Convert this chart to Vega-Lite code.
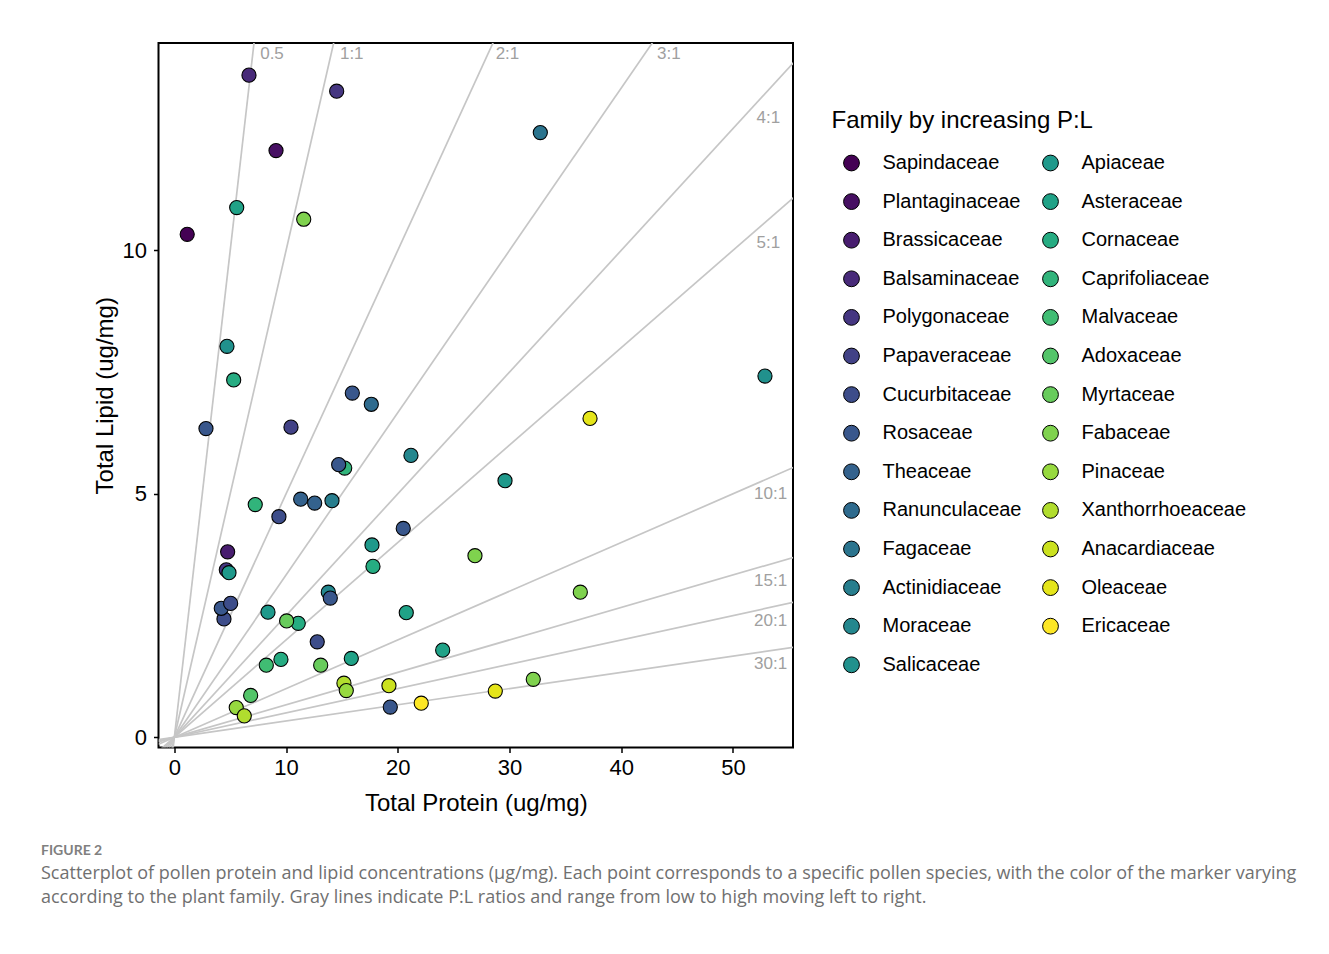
{
  "$schema": "https://vega.github.io/schema/vega-lite/v6.json",
  "width": 634.5,
  "height": 704.5,
  "autosize": "none",
  "padding": {"left": 158.5, "top": 43, "right": 536, "bottom": 206.5},
  "background": "white",
  "config": {
    "font": "Liberation Sans",
    "view": {"stroke": "black", "strokeWidth": 2},
    "axis": {
      "grid": false, "domain": false, "tickColor": "black", "tickSize": 5, "tickWidth": 1.5,
      "labelFontSize": 22, "labelColor": "black", "titleFontSize": 24, "titleFontWeight": "normal",
      "titleColor": "black", "labelFont": "Liberation Sans", "titleFont": "Liberation Sans"
    }
  },
  "title": {
    "text": "FIGURE 2",
    "subtitle": [
      "Scatterplot of pollen protein and lipid concentrations (μg/mg). Each point corresponds to a specific pollen species, with the color of the marker varying",
      "according to the plant family. Gray lines indicate P:L ratios and range from low to high moving left to right."
    ],
    "orient": "bottom", "anchor": "start", "frame": "group", "dx": -117.5, "offset": 28,
    "font": "Lato", "fontSize": 14, "fontWeight": "bold", "color": "#808080",
    "subtitleFont": "Open Sans", "subtitleFontSize": 18, "subtitleColor": "#707070",
    "subtitleLineHeight": 24, "subtitlePadding": 7
  },
  "datasets": {
    "ratios": [
      {"ratio": "0.5", "protein": -1.42, "lipid": -2.84, "protein_end": 60, "lipid_end": 120},
      {"ratio": "1:1", "protein": -1.42, "lipid": -1.42, "protein_end": 60, "lipid_end": 60},
      {"ratio": "2:1", "protein": -1.42, "lipid": -0.71, "protein_end": 60, "lipid_end": 30},
      {"ratio": "3:1", "protein": -1.42, "lipid": -0.473, "protein_end": 60, "lipid_end": 20},
      {"ratio": "4:1", "protein": -1.42, "lipid": -0.355, "protein_end": 60, "lipid_end": 15},
      {"ratio": "5:1", "protein": -1.42, "lipid": -0.284, "protein_end": 60, "lipid_end": 12},
      {"ratio": "10:1", "protein": -1.42, "lipid": -0.142, "protein_end": 60, "lipid_end": 6},
      {"ratio": "15:1", "protein": -1.42, "lipid": -0.0947, "protein_end": 60, "lipid_end": 4},
      {"ratio": "20:1", "protein": -1.42, "lipid": -0.071, "protein_end": 60, "lipid_end": 3},
      {"ratio": "30:1", "protein": -1.42, "lipid": -0.0473, "protein_end": 60, "lipid_end": 2}
    ],
    "labels": [
      {"label": "0.5", "protein": 8.74, "lipid": 14.03},
      {"label": "1:1", "protein": 15.88, "lipid": 14.03},
      {"label": "2:1", "protein": 29.82, "lipid": 14.03},
      {"label": "3:1", "protein": 44.26, "lipid": 14.03},
      {"label": "4:1", "protein": 53.17, "lipid": 12.72},
      {"label": "5:1", "protein": 53.17, "lipid": 10.16},
      {"label": "10:1", "protein": 53.37, "lipid": 5.0},
      {"label": "15:1", "protein": 53.37, "lipid": 3.22},
      {"label": "20:1", "protein": 53.37, "lipid": 2.39},
      {"label": "30:1", "protein": 53.37, "lipid": 1.5}
    ],
    "pollen": [
      {"family": "Sapindaceae", "protein": 1.15, "lipid": 10.33},
      {"family": "Plantaginaceae", "protein": 9.10, "lipid": 12.05},
      {"family": "Balsaminaceae", "protein": 6.68, "lipid": 13.60},
      {"family": "Polygonaceae", "protein": 14.53, "lipid": 13.27},
      {"family": "Asteraceae", "protein": 5.58, "lipid": 10.88},
      {"family": "Fabaceae", "protein": 11.58, "lipid": 10.64},
      {"family": "Fagaceae", "protein": 32.76, "lipid": 12.42},
      {"family": "Salicaceae", "protein": 4.71, "lipid": 8.03},
      {"family": "Cornaceae", "protein": 5.31, "lipid": 7.34},
      {"family": "Rosaceae", "protein": 2.83, "lipid": 6.34},
      {"family": "Papaveraceae", "protein": 10.44, "lipid": 6.37},
      {"family": "Rosaceae", "protein": 15.93, "lipid": 7.07},
      {"family": "Ranunculaceae", "protein": 17.63, "lipid": 6.84},
      {"family": "Caprifoliaceae", "protein": 15.25, "lipid": 5.53},
      {"family": "Rosaceae", "protein": 14.71, "lipid": 5.60},
      {"family": "Moraceae", "protein": 21.18, "lipid": 5.79},
      {"family": "Apiaceae", "protein": 29.60, "lipid": 5.27},
      {"family": "Caprifoliaceae", "protein": 7.24, "lipid": 4.78},
      {"family": "Cucurbitaceae", "protein": 9.36, "lipid": 4.53},
      {"family": "Theaceae", "protein": 11.31, "lipid": 4.89},
      {"family": "Theaceae", "protein": 12.56, "lipid": 4.81},
      {"family": "Actinidiaceae", "protein": 14.11, "lipid": 4.86},
      {"family": "Rosaceae", "protein": 20.49, "lipid": 4.29},
      {"family": "Salicaceae", "protein": 52.87, "lipid": 7.42},
      {"family": "Oleaceae", "protein": 37.21, "lipid": 6.55},
      {"family": "Brassicaceae", "protein": 4.77, "lipid": 3.81},
      {"family": "Polygonaceae", "protein": 4.65, "lipid": 3.44},
      {"family": "Apiaceae", "protein": 4.89, "lipid": 3.38},
      {"family": "Cucurbitaceae", "protein": 4.44, "lipid": 2.43},
      {"family": "Rosaceae", "protein": 4.20, "lipid": 2.65},
      {"family": "Cucurbitaceae", "protein": 5.04, "lipid": 2.75},
      {"family": "Apiaceae", "protein": 8.38, "lipid": 2.57},
      {"family": "Cornaceae", "protein": 11.09, "lipid": 2.34},
      {"family": "Myrtaceae", "protein": 10.05, "lipid": 2.39},
      {"family": "Moraceae", "protein": 13.78, "lipid": 2.98},
      {"family": "Rosaceae", "protein": 13.96, "lipid": 2.86},
      {"family": "Apiaceae", "protein": 17.69, "lipid": 3.95},
      {"family": "Cornaceae", "protein": 17.78, "lipid": 3.51},
      {"family": "Fabaceae", "protein": 26.91, "lipid": 3.73},
      {"family": "Cucurbitaceae", "protein": 12.79, "lipid": 1.96},
      {"family": "Myrtaceae", "protein": 13.10, "lipid": 1.48},
      {"family": "Asteraceae", "protein": 15.84, "lipid": 1.62},
      {"family": "Malvaceae", "protein": 8.23, "lipid": 1.48},
      {"family": "Cornaceae", "protein": 9.54, "lipid": 1.60},
      {"family": "Asteraceae", "protein": 20.76, "lipid": 2.56},
      {"family": "Asteraceae", "protein": 24.02, "lipid": 1.79},
      {"family": "Fabaceae", "protein": 36.34, "lipid": 2.98},
      {"family": "Xanthorrhoeaceae", "protein": 15.18, "lipid": 1.11},
      {"family": "Pinaceae", "protein": 15.39, "lipid": 0.96},
      {"family": "Adoxaceae", "protein": 6.83, "lipid": 0.86},
      {"family": "Pinaceae", "protein": 5.54, "lipid": 0.61},
      {"family": "Xanthorrhoeaceae", "protein": 6.26, "lipid": 0.44},
      {"family": "Anacardiaceae", "protein": 19.21, "lipid": 1.06},
      {"family": "Rosaceae", "protein": 19.33, "lipid": 0.62},
      {"family": "Ericaceae", "protein": 22.10, "lipid": 0.70},
      {"family": "Oleaceae", "protein": 28.73, "lipid": 0.95},
      {"family": "Fabaceae", "protein": 32.13, "lipid": 1.19}
    ]
  },
  "layer": [
    {
      "data": {"name": "ratios"},
      "mark": {"type": "rule", "color": "#c6c6c6", "strokeWidth": 1.7, "clip": true},
      "encoding": {
        "x": {"field": "protein", "type": "quantitative",
              "scale": {"domain": [-1.42, 55.38], "nice": false, "zero": false},
              "axis": {"title": "Total Protein (ug/mg)", "values": [0, 10, 20, 30, 40, 50], "labelPadding": 5, "titlePadding": 13}},
        "y": {"field": "lipid", "type": "quantitative",
              "scale": {"domain": [-0.21, 14.26], "nice": false, "zero": false},
              "axis": {"title": "Total Lipid (ug/mg)", "values": [0, 5, 10], "labelPadding": 7, "titlePadding": 5}},
        "x2": {"field": "protein_end"},
        "y2": {"field": "lipid_end"}
      }
    },
    {
      "data": {"name": "labels"},
      "mark": {"type": "text", "fontSize": 17, "color": "#a0a0a0", "align": "center", "baseline": "middle", "font": "Liberation Sans"},
      "encoding": {
        "x": {"field": "protein", "type": "quantitative",
              "axis": {"title": "Total Protein (ug/mg)", "values": [0, 10, 20, 30, 40, 50], "labelPadding": 5, "titlePadding": 13}},
        "y": {"field": "lipid", "type": "quantitative",
              "axis": {"title": "Total Lipid (ug/mg)", "values": [0, 5, 10], "labelPadding": 7, "titlePadding": 5}},
        "text": {"field": "label"}
      }
    },
    {
      "data": {"name": "pollen"},
      "mark": {"type": "circle", "size": 200, "opacity": 1, "stroke": "black", "strokeWidth": 1.1},
      "encoding": {
        "x": {"field": "protein", "type": "quantitative",
              "axis": {"title": "Total Protein (ug/mg)", "values": [0, 10, 20, 30, 40, 50], "labelPadding": 5, "titlePadding": 13}},
        "y": {"field": "lipid", "type": "quantitative",
              "axis": {"title": "Total Lipid (ug/mg)", "values": [0, 5, 10], "labelPadding": 7, "titlePadding": 5}},
        "color": {
          "field": "family", "type": "nominal",
          "scale": {
            "domain": ["Sapindaceae", "Plantaginaceae", "Brassicaceae", "Balsaminaceae", "Polygonaceae", "Papaveraceae", "Cucurbitaceae", "Rosaceae", "Theaceae", "Ranunculaceae", "Fagaceae", "Actinidiaceae", "Moraceae", "Salicaceae", "Apiaceae", "Asteraceae", "Cornaceae", "Caprifoliaceae", "Malvaceae", "Adoxaceae", "Myrtaceae", "Fabaceae", "Pinaceae", "Xanthorrhoeaceae", "Anacardiaceae", "Oleaceae", "Ericaceae"],
            "scheme": {"name": "viridis", "extent": [-0.0384615, 1.0384615]}
          },
          "legend": {
            "orient": "none", "legendX": 673, "legendY": 66, "padding": 0,
            "title": "Family by increasing P:L", "titleFontSize": 24, "titleFontWeight": "normal", "titleColor": "black",
            "titlePadding": 20, "titleLimit": 500,
            "labelFontSize": 20, "labelColor": "black", "labelLimit": 300, "labelOffset": 21,
            "columns": 2, "columnPadding": 9, "rowPadding": 18.6,
            "symbolType": "circle", "symbolSize": 250, "symbolStrokeColor": "black", "symbolStrokeWidth": 1,
            "symbolOffset": 10
          }
        }
      }
    }
  ]
}
